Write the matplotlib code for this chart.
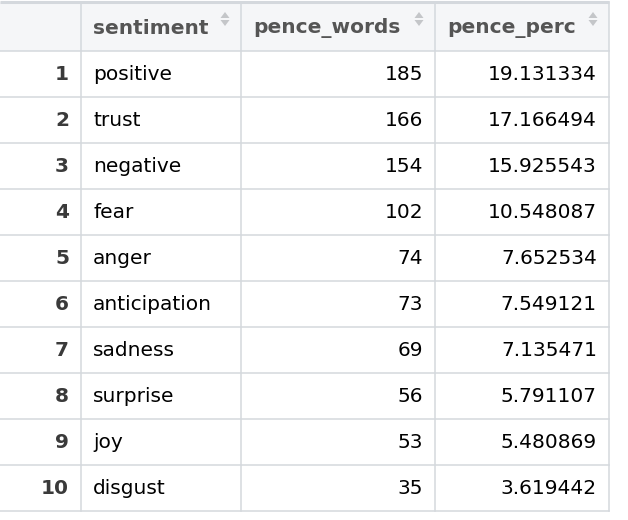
import matplotlib.pyplot as plt
from matplotlib.patches import Rectangle, Polygon

# table contents
columns = ["sentiment", "pence_words", "pence_perc"]
sentiment = ["positive", "trust", "negative", "fear", "anger",
             "anticipation", "sadness", "surprise", "joy", "disgust"]
pence_words = [185, 166, 154, 102, 74, 73, 69, 56, 53, 35]
pence_perc = [19.131334, 17.166494, 15.925543, 10.548087, 7.652534,
              7.549121, 7.135471, 5.791107, 5.480869, 3.619442]

# layout in pixels
W, H = 628, 520
col_edges = [0, 81, 241, 435, 609]
top = 2
head_h = 49
row_h = 46
grid_col = "#d4d8dd"
head_bg = "#f5f6f8"
fs = 14.5

fig = plt.figure(figsize=(W / 100, H / 100), dpi=100)
ax = fig.add_axes([0, 0, 1, 1])
ax.set_xlim(0, W)
ax.set_ylim(H, 0)
ax.axis("off")

n = len(sentiment)
bottom = top + head_h + n * row_h

# header background
ax.add_patch(Rectangle((0, top), col_edges[-1], head_h, facecolor=head_bg, edgecolor="none"))

# grid lines
ax.plot([0, col_edges[-1]], [top, top], color=grid_col, lw=2.2, solid_capstyle="butt")
for i in range(n + 1):
    y = top + head_h + i * row_h
    ax.plot([0, col_edges[-1]], [y, y], color=grid_col, lw=1.1)
for x in col_edges[1:]:
    ax.plot([x, x], [top, bottom], color=grid_col, lw=1.1)

# header text + sort arrows
head_y = top + head_h / 2 + 1.5
for j, name in enumerate(columns):
    x0, x1 = col_edges[j + 1], col_edges[j + 2]
    ax.text(x0 + 12, head_y, name, fontsize=fs, fontweight="bold", color="#555555",
            ha="left", va="center")
    cx = x1 - 16
    ax.add_patch(Polygon([[cx - 4.5, 18], [cx + 4.5, 18], [cx, 12]],
                         closed=True, facecolor="#c4c6c9", edgecolor="none"))
    ax.add_patch(Polygon([[cx - 4.5, 20], [cx + 4.5, 20], [cx, 26]],
                         closed=True, facecolor="#c4c6c9", edgecolor="none"))

# body
for i in range(n):
    y = top + head_h + (i + 0.5) * row_h + 1
    ax.text(col_edges[1] - 12, y, str(i + 1), fontsize=fs, fontweight="bold",
            color="#3a3a3a", ha="right", va="center")
    ax.text(col_edges[1] + 12, y, sentiment[i], fontsize=fs, color="black",
            ha="left", va="center")
    ax.text(col_edges[3] - 12, y, str(pence_words[i]), fontsize=fs, color="black",
            ha="right", va="center")
    ax.text(col_edges[4] - 12, y, f"{pence_perc[i]:.6f}", fontsize=fs, color="black",
            ha="right", va="center")

fig.savefig("out.png", dpi=100)
